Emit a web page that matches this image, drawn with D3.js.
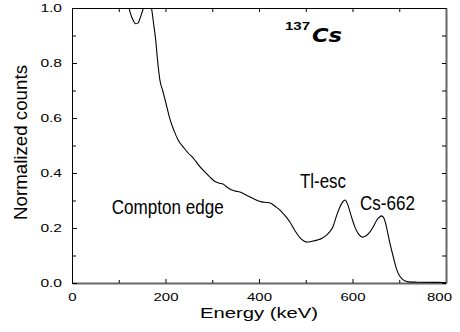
<!DOCTYPE html>
<html>
<head>
<meta charset="utf-8">
<script src="https://cdn.jsdelivr.net/npm/d3@7"></script>
<style>
  html, body { margin: 0; padding: 0; background: #fff; }
  svg { display: block; }
  text { font-family: "Liberation Sans", Arial, Helvetica, sans-serif; fill: #000; }
</style>
</head>
<body>
<svg id="chart" width="460" height="332"></svg>
<script>
// 137Cs spectrum, normalized counts vs deposited energy
const energy = [116, 122, 126, 131, 136, 141, 146, 151, 155, 160, 166, 170, 174, 179, 183, 188, 194, 200, 210, 218, 227, 240, 250,
  259, 274, 284, 295, 306, 315, 323, 332, 342, 350, 359, 370, 381, 394, 406, 415, 424, 435, 445, 453, 460, 466, 477, 488, 496,
  503, 514, 524, 535, 545, 552, 558, 566, 573, 579, 584, 590, 597, 605, 613, 622, 629, 637, 645, 652, 658, 662, 667, 670, 675,
  680, 688, 695, 700, 706, 712, 719, 738, 800];
const counts = [1.03, 1.00, 0.975, 0.955, 0.943, 0.945, 0.965, 0.99, 1.01, 1.03, 1.02, 1.00, 0.95, 0.884, 0.81, 0.738, 0.70, 0.66, 0.593, 0.555, 0.52, 0.49, 0.47,
  0.455, 0.422, 0.404, 0.385, 0.369, 0.363, 0.360, 0.348, 0.338, 0.334, 0.331, 0.322, 0.313, 0.302, 0.295, 0.293, 0.291, 0.278, 0.265, 0.25, 0.236, 0.222, 0.19, 0.164, 0.153,
  0.149, 0.152, 0.156, 0.163, 0.175, 0.188, 0.204, 0.245, 0.276, 0.295, 0.302, 0.284, 0.245, 0.204, 0.178, 0.167, 0.172, 0.185, 0.206, 0.229, 0.240, 0.244, 0.236, 0.222, 0.185,
  0.145, 0.09, 0.047, 0.028, 0.015, 0.008, 0.004, 0.003, 0.002];

const xMajorTicks = [0, 200, 400, 600, 800];
const xMinorTicks = [100, 300, 500, 700];
const xAllTicks = [0, 100, 200, 300, 400, 500, 600, 700, 800];
const yMajorTicks = [0, 0.2, 0.4, 0.6, 0.8, 1.0];
const yMinorTicks = [0.1, 0.3, 0.5, 0.7, 0.9];
const yAllTicks = [0, 0.1, 0.2, 0.3, 0.4, 0.5, 0.6, 0.7, 0.8, 0.9, 1.0];

const peakLabels = [
  { text: "Compton edge", x: 111.7, y: 214, len: 112 },
  { text: "Tl-esc", x: 300, y: 188, len: 46 },
  { text: "Cs-662", x: 360, y: 209.5, len: 55 }
];

const svg = d3.select("#chart");
const plotLeft = 72, plotRight = 446, plotTop = 8, plotBottom = 283;

const x = d3.scaleLinear().domain([0, 800]).range([plotLeft, plotRight]);
const y = d3.scaleLinear().domain([0, 1]).range([plotBottom, plotTop]);

// label widths for the stretched tick font
const labelLen = s => s.split("").reduce((a, c) => a + (c === "." ? 5 : 8.3), 0);

function styleTicks(g) {
  g.selectAll(".tick line").attr("stroke", "#000").attr("stroke-width", 1);
  g.selectAll(".tick text")
    .style("font-family", '"Liberation Sans", Arial, sans-serif')
    .style("font-size", "11.5px")
    .attr("fill", "#000")
    .attr("textLength", function () { return labelLen(this.textContent); })
    .attr("lengthAdjust", "spacingAndGlyphs");
}

// bottom axis with labels
const gBottom = svg.append("g").attr("transform", `translate(0,${plotBottom})`)
  .call(d3.axisBottom(x).tickValues(xMajorTicks).tickSizeInner(-4).tickSizeOuter(0).tickPadding(10));
gBottom.select(".domain").attr("stroke", "#666").attr("stroke-width", 2);
styleTicks(gBottom);
gBottom.selectAll(".tick text").filter(d => d === 800).attr("dx", -7);

svg.append("g").attr("transform", `translate(0,${plotBottom})`)
  .call(d3.axisBottom(x).tickValues(xMinorTicks).tickSize(-3).tickFormat(""))
  .call(g => g.select(".domain").remove());

// top axis: ticks only
svg.append("g").attr("transform", `translate(0,${plotTop})`)
  .call(d3.axisTop(x).tickValues(xAllTicks).tickSize(-4).tickSizeOuter(0).tickFormat(""))
  .call(g => g.select(".domain").attr("stroke", "#000"));

// left axis with labels
const gLeft = svg.append("g").attr("transform", `translate(${plotLeft},0)`)
  .call(d3.axisLeft(y).tickValues(yMajorTicks).tickFormat(d3.format(".1f")).tickSizeInner(-5).tickSizeOuter(0).tickPadding(10));
gLeft.select(".domain").attr("stroke", "#000");
styleTicks(gLeft);

svg.append("g").attr("transform", `translate(${plotLeft},0)`)
  .call(d3.axisLeft(y).tickValues(yMinorTicks).tickSize(-4).tickFormat(""))
  .call(g => g.select(".domain").remove());

// right axis: ticks only
svg.append("g").attr("transform", `translate(${plotRight},0)`)
  .call(d3.axisRight(y).tickValues(yAllTicks).tickSize(-4).tickSizeOuter(0).tickFormat(""))
  .call(g => g.select(".domain").attr("stroke", "#666").attr("stroke-width", 2));

// spectrum curve, clipped to the frame
svg.append("clipPath").attr("id", "plot-clip")
  .append("rect").attr("x", plotLeft).attr("y", plotTop)
  .attr("width", plotRight - plotLeft).attr("height", plotBottom - plotTop);

const points = energy.map((e, i) => [e, counts[i]]);
const line = d3.line().x(d => x(d[0])).y(d => y(d[1])).curve(d3.curveMonotoneX);

svg.append("path")
  .datum(points)
  .attr("clip-path", "url(#plot-clip)")
  .attr("fill", "none")
  .attr("stroke", "#000")
  .attr("stroke-width", 1.1)
  .attr("d", line);

// peak annotations
svg.selectAll("text.peak").data(peakLabels).join("text")
  .attr("class", "peak")
  .attr("x", d => d.x).attr("y", d => d.y)
  .attr("textLength", d => d.len).attr("lengthAdjust", "spacingAndGlyphs")
  .style("font-size", "20px")
  .text(d => d.text);

// source label
svg.append("text").attr("x", 285).attr("y", 29.5)
  .style("font-size", "11px").style("font-weight", "bold")
  .attr("textLength", 25).attr("lengthAdjust", "spacingAndGlyphs")
  .text("137");
svg.append("text").attr("x", 312).attr("y", 41.5)
  .style("font-family", '"DejaVu Sans", sans-serif')
  .style("font-size", "20px").style("font-weight", "bold").style("font-style", "italic")
  .attr("textLength", 30).attr("lengthAdjust", "spacingAndGlyphs")
  .text("Cs");

// axis titles
svg.append("text").attr("x", 200).attr("y", 317.5)
  .style("font-size", "15.5px")
  .attr("textLength", 118).attr("lengthAdjust", "spacingAndGlyphs")
  .text("Energy (keV)");

svg.append("text")
  .attr("transform", "rotate(-90)")
  .attr("x", -142.5).attr("y", 26.5)
  .attr("text-anchor", "middle")
  .style("font-size", "19px")
  .attr("textLength", 155).attr("lengthAdjust", "spacingAndGlyphs")
  .text("Normalized counts");
</script>
</body>
</html>
